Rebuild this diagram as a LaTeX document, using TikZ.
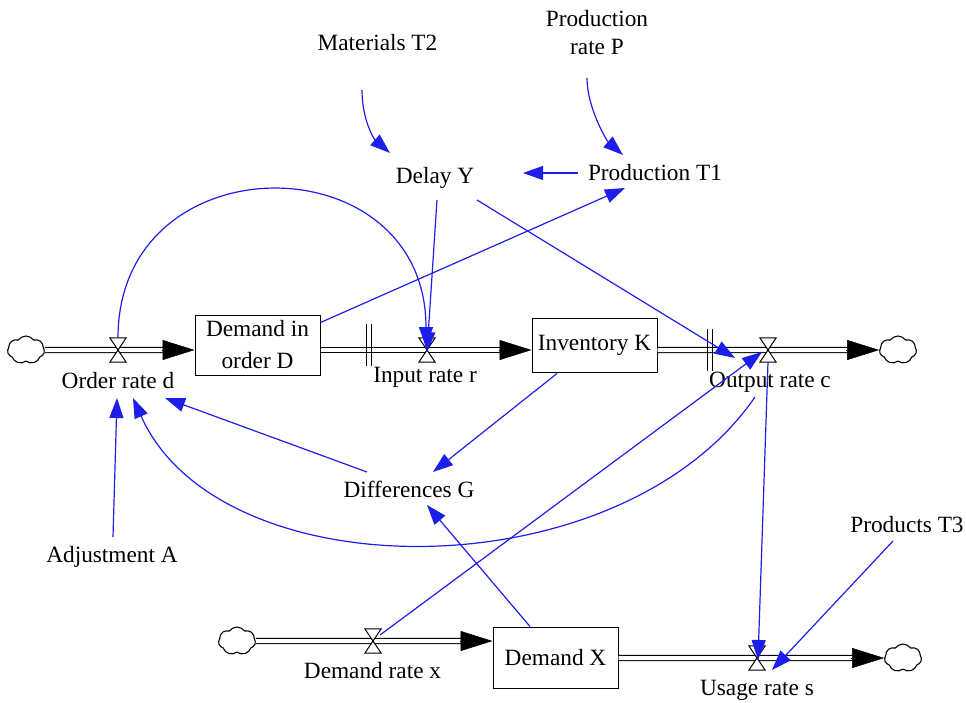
\documentclass[tikz,border=0pt]{standalone}
\usepackage{fontspec}
\setmainfont{Liberation Serif}
\usetikzlibrary{arrows.meta,shapes.symbols,calc}
\definecolor{linkblue}{RGB}{30,30,235}

\begin{document}
\begin{tikzpicture}[x=1pt,y=-1pt,
  font=\fontsize{23.3}{29}\selectfont,
  lbl/.style={anchor=base, inner sep=2pt, text height=16pt, text depth=5pt},
  stock/.style={draw=black, line width=1pt, fill=white, inner sep=2pt, align=center},
  valve/.style={rectangle, inner sep=0pt, minimum width=16pt, minimum height=24pt},
  valveshape/.style={draw=black, line width=1pt, fill=white, line join=miter},
  sink/.style={cloud, cloud puffs=7, cloud puff arc=110, aspect=1.3, draw=black,
    line width=1.1pt, fill=white, inner sep=0pt, minimum width=37pt, minimum height=28pt},
  pipe/.style={draw=black, line width=1.1pt, double=white, double distance=4pt},
  flowtip/.style={draw=black, line width=0.5pt, -{Triangle[length=32pt,width=20pt]}},
  link/.style={draw=linkblue, line width=1.2pt, -{Triangle[length=20pt,width=14pt]}},
]
\useasboundingbox (0,0) rectangle (966,702);

% stocks
\node[stock, minimum width=125pt, minimum height=60pt, font=\fontsize{23.3}{32}\selectfont]
  (boxD) at (257.5,345) {Demand in\\order D};
\node[stock, minimum width=125pt, minimum height=54pt] (boxK) at (594.5,345) {Inventory K};
\node[stock, minimum width=125pt, minimum height=61pt] (boxX) at (555.5,657.5) {Demand X};

% valves
\node[valve] (vOrder)  at (118,350) {};
\node[valve] (vInput)  at (427,350) {};
\node[valve] (vOutput) at (768,350) {};
\node[valve] (vDemand) at (373,641) {};
\node[valve] (vUsage)  at (757,658) {};

% sources and sinks
\node[sink] (cL1) at (26,350) {};
\node[sink] (cR1) at (898,350) {};
\node[sink] (cL2) at (237,641) {};
\node[sink] (cR2) at (903,658) {};

% pipe end points
\coordinate (inD)  at (boxD.west |- vOrder.center);
\coordinate (outD) at (boxD.east |- vInput.center);
\coordinate (inK)  at (boxK.west |- vInput.center);
\coordinate (outK) at (boxK.east |- vOutput.center);
\coordinate (inX)  at (boxX.west |- vDemand.center);
\coordinate (outX) at (boxX.east |- vUsage.center);

% pipes
\draw[pipe, shorten >=30pt] (cL1.east) -- (inD);
\draw[pipe, shorten >=30pt] (outD) -- (inK);
\draw[pipe, shorten >=30pt] (outK) -- (cR1.west);
\draw[pipe, shorten >=30pt] (cL2.east) -- (inX);
\draw[pipe, shorten >=30pt] (outX) -- (cR2.west);

\draw[flowtip] ([xshift=-33pt]inD) -- (inD);
\draw[flowtip] ([xshift=-33pt]inK) -- (inK);
\draw[flowtip] ([xshift=-33pt]cR1.west) -- (cR1.west);
\draw[flowtip] ([xshift=-33pt]inX) -- (inX);
\draw[flowtip] ([xshift=-33pt]cR2.west) -- (cR2.west);

% delay marks
\draw[line width=1pt] (366,324) -- (366,366) (371,324) -- (371,366);
\draw[line width=1pt] (707,329) -- (707,371) (712,329) -- (712,371);

% valve glyphs
\foreach \v in {vOrder,vInput,vOutput,vDemand,vUsage}
  \draw[valveshape] (\v.north west) -- (\v.north east) -- (\v.south west) -- (\v.south east) -- cycle;

% labels
\node[lbl] (lOrder)   at (118,388)   {Order rate d};
\node[lbl] (lInput)   at (425,382)   {Input rate r};
\node[lbl] (lOutput)  at (770,387)   {Output rate c};
\node[lbl] (lDemandx) at (372.5,678) {Demand rate x};
\node[lbl] (lUsage)   at (757,695)   {Usage rate s};
\node[lbl] (mat)      at (377.5,50)  {Materials T2};
\node[align=center, inner sep=2pt, font=\fontsize{23.3}{28}\selectfont]
  (prodP) at (597,33) {Production\\rate P};
\node[lbl] (delay)    at (435,183)   {Delay Y};
\node[lbl] (prodT1)   at (655,180)   {Production T1};
\node[lbl] (diff)     at (409,497)   {Differences G};
\node[lbl] (adj)      at (112,562)   {Adjustment A};
\node[lbl] (prodT3)   at (907,532)   {Products T3};

% information links
\draw[link] ($(mat.base)+(-15.5,40)$) .. controls +(0,30) and +(-16,-14) .. ($(delay.base)+(-45,-30)$);
\draw[link] ($(prodP.center)+(-10,45)$) .. controls +(0,30) and +(-16,-14) .. ($(prodT1.base)+(-32,-25)$);
\draw[link] ($(prodT1.base)+(-77,-7)$) -- ($(delay.base)+(88,-10)$);
\draw[link] ($(boxD.north east)+(0,8)$) -- ($(prodT1.base)+(-30,8)$);
\draw[link] ($(delay.base)+(2,17)$) -- ($(vInput.center)+(0,2)$);
\draw[link] (vOrder.north) .. controls +(0,-198) and +(0,-207) .. ($(vInput.center)+(-1,-3)$);
\draw[link] ($(delay.base)+(42,17)$) -- ($(lOutput.base)+(-35,-29)$);
\draw[link] ($(vDemand.center)+(7,-6)$) -- ($(vOutput.center)+(-6,2)$);
\draw[link] ($(lOutput.base)+(-15,10)$) .. controls +(-135,196) and +(87,195) .. ($(lOrder.base)+(15,10)$);
\draw[link] ($(diff.base)+(-42,-25)$) -- ($(lOrder.base)+(47,10)$);
\draw[link] ($(adj.base)+(1,-25)$) -- ($(lOrder.base)+(-1,10)$);
\draw[link] ($(boxK.south)+(-37.5,1)$) -- ($(diff.base)+(24,-25)$);
\draw[link] ($(boxX.north)+(-25.5,0)$) -- ($(diff.base)+(18,8)$);
\draw[link] (vOutput.south) -- ($(vUsage.center)+(1,2)$);
\draw[link] ($(prodT3.base)+(-14,9)$) -- ($(vUsage.center)+(15,12)$);
\end{tikzpicture}
\end{document}
